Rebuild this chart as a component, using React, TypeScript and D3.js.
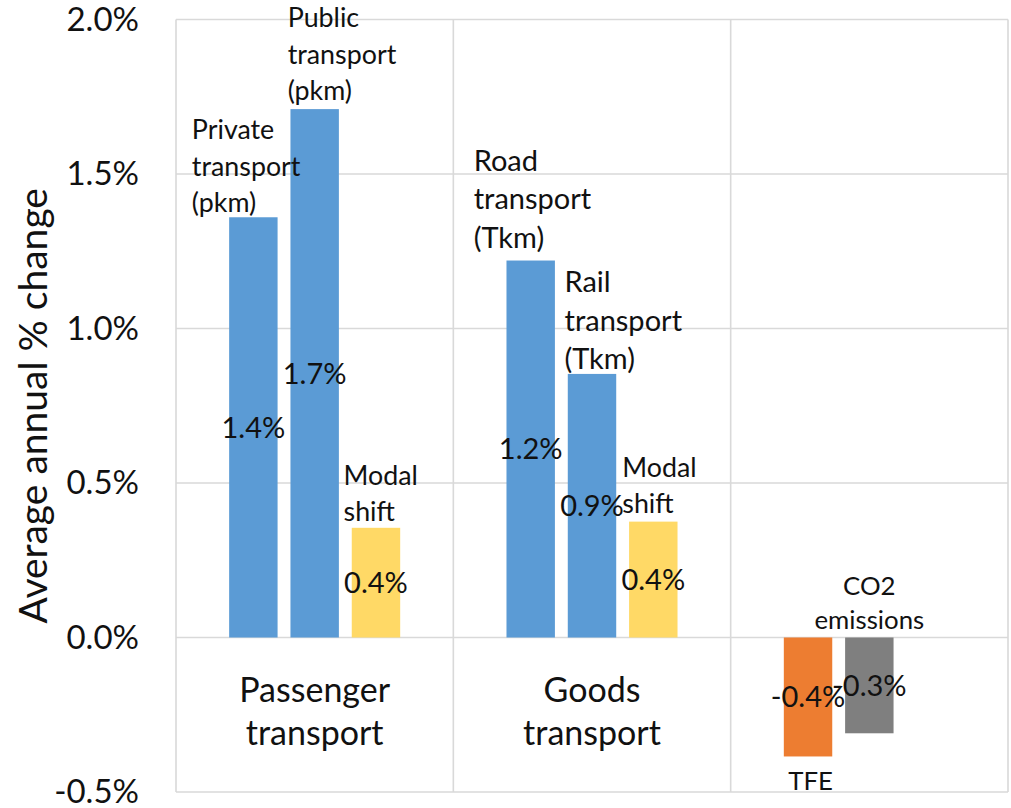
import React from "react";
import * as d3 from "d3";

// groups on the category axis
const groups = ["passenger", "goods", "energy"];
const groupLabels = [["Passenger", "transport"], ["Goods", "transport"], []];
const slots = ["a", "b", "c"];

// one entry per bar
const barGroup = [0, 0, 0, 1, 1, 1, 2, 2];
const barSlot = [0, 1, 2, 0, 1, 2, 0, 1];
const barValues = [1.36, 1.71, 0.355, 1.22, 0.853, 0.375, -0.385, -0.31];
const barNames = [
  ["Private", "transport", "(pkm)"],
  ["Public", "transport", "(pkm)"],
  ["Modal", "shift"],
  ["Road", "transport", "(Tkm)"],
  ["Rail", "transport", "(Tkm)"],
  ["Modal", "shift"],
  ["TFE"],
  ["CO2", "emissions"],
];
const barKind = ["activity", "activity", "shift", "activity", "activity", "shift", "energy", "emissions"];

const yTicks = [-0.5, 0, 0.5, 1, 1.5, 2];

// styling / placement of the bar name labels (relative to bar centre / bar end)
const colors: Record<string, string> = {
  activity: "#5B9BD5",
  shift: "#FFD966",
  energy: "#ED7D31",
  emissions: "#7F7F7F",
};
const nameAnchor = ["start", "start", "start", "start", "start", "start", "middle", "middle"];
const nameRef = ["top", "top", "top", "top", "top", "top", "bottom", "top"];
const nameDx = [-61.5, -27, -32.4, -57, -27.5, -31, 2.5, 0];
const nameDy = [-78, -81.7, -43.3, -89.7, -81.6, -45, 34, -42.5];
const nameSize = [26.8, 26.8, 26.8, 29, 29, 26.8, 25.8, 25.8];
const nameLead = [36.5, 36.5, 36, 38.5, 38.5, 36, 33.5, 33.5];

const W = 1011;
const H = 808;
const FONT = "Lato, 'Open Sans', sans-serif";
const plot = { left: 176, right: 1008, top: 19.5, bottom: 792 };

const App = () => {
  const x0 = d3.scaleBand<number>().domain(d3.range(groups.length)).range([plot.left, plot.right]).padding(0);
  const x1 = d3
    .scaleBand<number>()
    .domain(d3.range(slots.length))
    .range([0, x0.bandwidth()])
    .paddingInner(0.21)
    .paddingOuter(0.867);
  const y = d3.scaleLinear().domain([-0.5, 2]).range([plot.bottom, plot.top]);
  const fmt = (v: number) => v.toFixed(1) + "%";
  const grid = "#D9D9D9";

  const bars = barValues.map((v, i) => {
    const x = (x0(barGroup[i]) as number) + (x1(barSlot[i]) as number);
    const top = Math.min(y(v), y(0));
    const bottom = Math.max(y(v), y(0));
    return { v, i, x, w: x1.bandwidth(), top, bottom, cx: x + x1.bandwidth() / 2 };
  });

  return (
    <svg
      width={W}
      height={H}
      style={{ position: "absolute", left: 0, top: 0, background: "#fff" }}
      fontFamily={FONT}
    >
      {/* horizontal gridlines */}
      {yTicks.map((t) => (
        <line key={"g" + t} x1={plot.left} x2={plot.right} y1={y(t)} y2={y(t)} stroke={grid} strokeWidth={1.6} />
      ))}
      {/* vertical separators and borders */}
      {d3.range(groups.length + 1).map((k) => {
        const xx = k < groups.length ? (x0(k) as number) : plot.right;
        return <line key={"v" + k} x1={xx} x2={xx} y1={plot.top} y2={plot.bottom} stroke={grid} strokeWidth={1.6} />;
      })}

      {/* y tick labels */}
      {yTicks.map((t) => (
        <text key={"t" + t} x={139} y={y(t)} dy="0.34em" textAnchor="end" fontSize={33} fill="#111">
          {fmt(t)}
        </text>
      ))}

      {/* y title */}
      <text
        transform={`translate(47,${(plot.top + plot.bottom) / 2}) rotate(-90)`}
        textAnchor="middle"
        fontSize={39}
        fill="#111"
      >
        Average annual % change
      </text>

      {/* bars */}
      {bars.map((b) => (
        <rect key={"b" + b.i} x={b.x} y={b.top} width={b.w} height={b.bottom - b.top} fill={colors[barKind[b.i]]} />
      ))}

      {/* category labels */}
      {groupLabels.map((lines, g) =>
        lines.map((s, k) => (
          <text
            key={"c" + g + k}
            x={(x0(g) as number) + x0.bandwidth() / 2}
            y={701.7 + k * 43.3}
            textAnchor="middle"
            fontSize={34}
            fill="#111"
          >
            {s}
          </text>
        ))
      )}

      {/* bar name labels */}
      {bars.map((b) => {
        const ref = nameRef[b.i] === "top" ? b.top : b.bottom;
        return (
          <text
            key={"n" + b.i}
            x={b.cx + nameDx[b.i]}
            y={ref + nameDy[b.i]}
            textAnchor={nameAnchor[b.i] as any}
            fontSize={nameSize[b.i]}
            fill="#111"
          >
            {barNames[b.i].map((s, k) => (
              <tspan key={k} x={b.cx + nameDx[b.i]} y={ref + nameDy[b.i] + k * nameLead[b.i]}>
                {s}
              </tspan>
            ))}
          </text>
        );
      })}

      {/* value labels */}
      {bars.map((b) => (
        <text
          key={"l" + b.i}
          x={b.cx}
          y={(b.top + b.bottom) / 2}
          dy="0.36em"
          textAnchor="middle"
          fontSize={29}
          fill="#111"
        >
          {fmt(b.v)}
        </text>
      ))}
    </svg>
  );
};

export default App;
